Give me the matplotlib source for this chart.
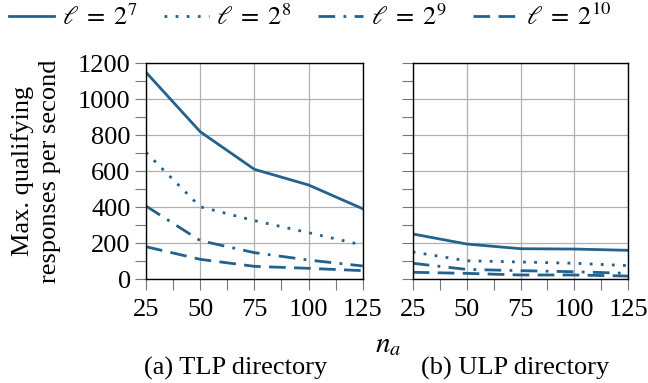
import matplotlib
matplotlib.use("Agg")
import matplotlib.pyplot as plt
from matplotlib.lines import Line2D

plt.rcParams['font.family'] = ['Liberation Serif', 'DejaVu Serif']
plt.rcParams['mathtext.fontset'] = 'stix'

n_a = [25, 50, 75, 100, 125]
labels = [r'$\ell\;=\;2^{7}$', r'$\ell\;=\;2^{8}$', r'$\ell\;=\;2^{9}$', r'$\ell\;=\;2^{10}$']
tlp_l7 = [1150, 820, 611, 524, 392]
tlp_l8 = [705, 403, 326, 259, 190]
tlp_l9 = [407, 215, 148, 107, 74]
tlp_l10 = [181, 111, 72, 61, 48]
ulp_l7 = [252, 196, 170, 168, 161]
ulp_l8 = [152, 103, 96, 89, 76]
ulp_l9 = [89, 55, 48, 42, 33]
ulp_l10 = [39, 33, 24, 24, 18]

color = '#23618e'
styles = ['-', (0, (1, 3)), (0, (6, 3, 1, 3)), (0, (6, 3))]

fig = plt.figure(figsize=(6.48, 3.83), dpi=100)
W, H = 648, 383
ax1 = fig.add_axes([146 / W, 1 - 279.3 / H, (362.7 - 146) / W, (279.3 - 63.3) / H])
ax2 = fig.add_axes([412.7 / W, 1 - 279.3 / H, (628.3 - 412.7) / W, (279.3 - 63.3) / H])

fs = 19
for ax, data in ((ax1, [tlp_l7, tlp_l8, tlp_l9, tlp_l10]), (ax2, [ulp_l7, ulp_l8, ulp_l9, ulp_l10])):
    for d, ls in zip(data, styles):
        ax.plot(n_a, d, color=color, lw=2.0, linestyle=ls)
    ax.set_xlim(25, 125)
    ax.set_ylim(0, 1200)
    ax.set_xticks(n_a)
    ax.set_xticks([37.5, 62.5, 87.5, 112.5], minor=True)
    ax.set_yticks(range(0, 1201, 200))
    ax.set_yticks(range(100, 1200, 200), minor=True)
    ax.grid(True, which='major', color='#b0b0b0', lw=0.9)
    ax.set_axisbelow(True)
    ax.tick_params(which='both', direction='out', length=8, color='#777777', width=0.8, labelsize=fs, pad=3)
    ax.tick_params(axis='x', pad=6)
    for s in ax.spines.values():
        s.set_color('black')
        s.set_linewidth(1.0)

ax2.tick_params(labelleft=False)
ax1.set_ylabel('Max. qualifying\nresponses per second', fontsize=fs, linespacing=1.3, labelpad=12)

fig.text(388 / W, 1 - 345 / H, r'$n_a$', fontsize=fs + 2, ha='center', va='center')
fig.text(236 / W, 1 - 368 / H, '(a) TLP directory', fontsize=fs, ha='center', va='center')
fig.text(515 / W, 1 - 368 / H, '(b) ULP directory', fontsize=fs, ha='center', va='center')

handles = [Line2D([], [], color=color, lw=2.0, linestyle=ls) for ls in styles]
fig.legend(handles, labels, loc='center', bbox_to_anchor=(310 / W, 1 - 17 / H), ncol=4,
           frameon=False, fontsize=fs, handlelength=1.7, handletextpad=0.3, columnspacing=1.0)

fig.savefig('out.png', dpi=100)
